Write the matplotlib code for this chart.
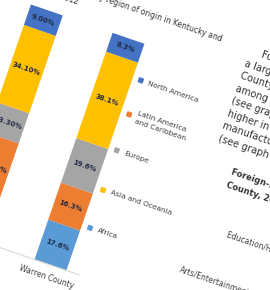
import matplotlib
matplotlib.use("Agg")
import matplotlib.pyplot as plt
from matplotlib.patches import Rectangle
from matplotlib.transforms import Affine2D
import numpy as np

# data
areas = ["Kentucky", "Warren County"]
regions = ["Africa", "Latin America and Caribbean", "Europe", "Asia and Oceania", "North America"]
kentucky = [18.20, 25.40, 13.30, 34.10, 9.00]
warren = [17.6, 16.3, 19.6, 38.1, 8.3]
colors = ["#5B9BD5", "#ED7D31", "#A5A5A5", "#FFC000", "#4472C4"]
legend_rank = [0, 3, 2, 1, 4]  # Africa at the bottom, North America on top

para_lines = ["Foreign-born residents make up",
              "a larger share of Warren County's",
              "County's workforce than the state's,",
              "among them many in service jobs",
              "(see graph below). Shares are",
              "higher in construction and in",
              "manufacturing than statewide",
              "(see graph on next page)."]

fig = plt.figure(figsize=(2.7, 2.9), dpi=100)

# the page is photographed at a tilt, so everything is rotated
rot = Affine2D().rotate_deg_around(135, 145, -19)
ang = -19

ax = fig.add_axes([-35.5 / 270, 4 / 290, 172.8 / 270, 240 / 290])
ax.axis("off")
tr = ax.transData + rot

x = np.arange(len(areas))
bottom = np.zeros(len(areas))
for i, reg in enumerate(regions):
    vals = np.array([kentucky[i], warren[i]])
    ax.bar(x, vals, bottom=bottom, width=0.39, color=colors[i],
           transform=tr, clip_on=False)
    labels = [f"{kentucky[i]:.2f}%", f"{warren[i]:.1f}%"]
    for j in range(len(areas)):
        ax.text(x[j], bottom[j] + vals[j] / 2, labels[j], transform=tr,
                rotation=ang, rotation_mode="anchor", ha="center", va="center",
                fontsize=5, fontweight="bold", color="#1f2a44", clip_on=False)
    bottom += vals

ax.plot([-0.5, 1.35], [0, 0], color="#d8d8d8", lw=0.8, transform=tr, clip_on=False)
for j, name in enumerate(areas):
    ax.text(x[j], -5.5, name, transform=tr, rotation=ang, rotation_mode="anchor",
            ha="center", va="center", fontsize=5.5, color="#404040")
ax.set_xlim(-0.5, 1.5)
ax.set_ylim(0, 100)

# title, left aligned in two lines
fig.text(-46, 273, "Foreign-born population by region of origin in Kentucky and",
         transform=rot, rotation=ang, rotation_mode="anchor", ha="left", va="center",
         fontsize=5.5, color="#333333")
fig.text(-46, 262, "Warren County, 2012", transform=rot, rotation=ang,
         rotation_mode="anchor", ha="left", va="center",
         fontsize=5.5, color="#333333")

# legend
leg_y = [52, 92, 134, 172, 208]
for i, reg in enumerate(regions):
    yy = leg_y[legend_rank[i]]
    fig.add_artist(Rectangle((117.5, yy - 2), 4, 4, color=colors[i], transform=rot))
    if "Caribbean" in reg:
        txt = "Latin America\nand Caribbean"
    else:
        txt = reg
    fig.text(127, yy, txt, transform=rot, rotation=ang, rotation_mode="anchor",
             ha="left", va="center", fontsize=5.3, color="#404040",
             linespacing=1.5)

# body text of the page on the right
fig.text(225, 272, para_lines[0], transform=rot, rotation=ang, rotation_mode="anchor",
         ha="left", va="center", fontsize=7, color="#333333")
for k, line in enumerate(para_lines[1:]):
    fig.text(212, 258 - k * 13.2, line, transform=rot, rotation=ang,
             rotation_mode="anchor", ha="left", va="center", fontsize=7, color="#333333")

fig.text(235, 151, "Foreign-born workers by industry in Warren", transform=rot,
         rotation=ang, rotation_mode="anchor", ha="left", va="center",
         fontsize=6, fontweight="bold", color="#333333")
fig.text(235, 137, "County, 2012", transform=rot, rotation=ang, rotation_mode="anchor",
         ha="left", va="center", fontsize=6, fontweight="bold", color="#333333")

fig.text(336, 91, "Education/Health care", transform=rot, rotation=ang,
         rotation_mode="anchor", ha="right", va="center", fontsize=5.5, color="#404040")
fig.text(336, 42, "Arts/Entertainment/Recreation", transform=rot, rotation=ang,
         rotation_mode="anchor", ha="right", va="center", fontsize=5.5, color="#404040")

fig.savefig("out.png", dpi=100)
